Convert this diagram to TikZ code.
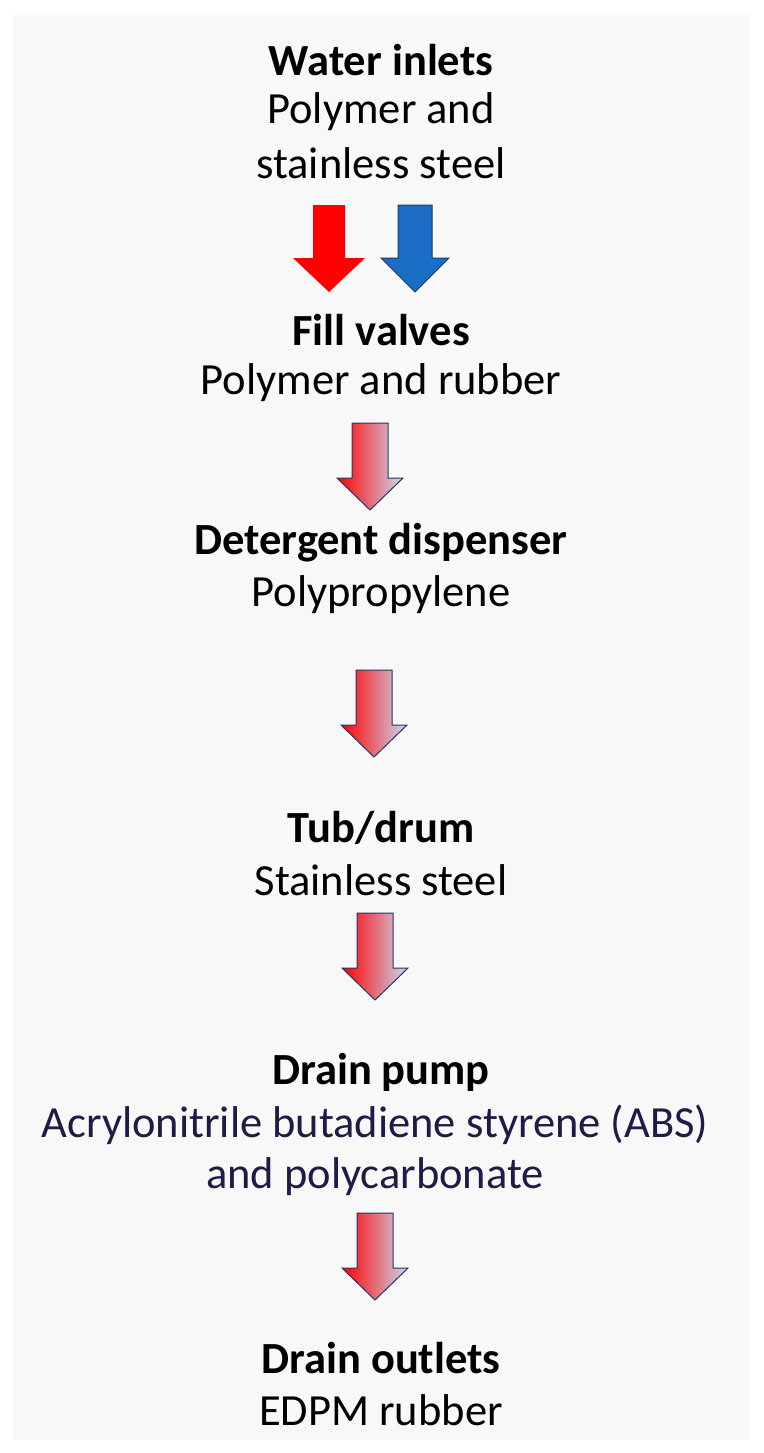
\documentclass[tikz,border=0pt]{standalone}
\usepackage{fontspec}
\setmainfont{Carlito}
\definecolor{panelgray}{HTML}{F8F8F8}
\definecolor{inletblue}{HTML}{1A6FC4}
\definecolor{edgenavy}{HTML}{1F3864}
\definecolor{paleblue}{HTML}{C9D9F2}
\definecolor{textnavy}{HTML}{1C1C44}
\tikzset{
	title/.style={font=\fontsize{44.5}{50}\selectfont\bfseries, inner sep=0pt},
	material/.style={font=\fontsize{44.5}{50}\selectfont, inner sep=0pt}
}
% down arrow, top centre at (#1,#2)
\newcommand{\downarrowpath}[5]{(#1-#3, #2) -- (#1+#3, #2) -- (#1+#3, #2+#5) -- (#1+#4, #2+#5) -- (#1, #2+87) -- (#1-#4, #2+#5) -- (#1-#3, #2+#5) -- cycle}
\begin{document}
\begin{tikzpicture}[x=1pt, y=-1pt]
	\useasboundingbox (0,0) rectangle (763,1453);
	\fill[panelgray] (13,15) rectangle (749,1440);
	
	\node[title] (inlet) at (381,60) {Water inlets};
	\node[material] (inletm1) at (381,112) {Polymer and};
	\node[material] (inletm2) at (381,163) {stainless steel};
	
	\fill[red] \downarrowpath{329}{205}{16}{36}{53};
	\draw[edgenavy, fill=inletblue, line width=1pt] \downarrowpath{415}{205}{17}{34}{53};
	
	\node[title] (fill) at (381,330) {Fill valves};
	\node[material] (fillm) at (381,383) {Polymer and rubber};
	\node[title] (disp) at (381,543) {Detergent dispenser};
	\node[material] (dispm) at (381,595) {Polypropylene};
	\node[title] (tub) at (381,828) {Tub/drum};
	\node[material] (tubm) at (381,880) {Stainless steel};
	\node[title] (pump) at (381,1072) {Drain pump};
	\node[material, text=textnavy] (pumpm1) at (375,1125) {Acrylonitrile butadiene styrene (ABS)};
	\node[material, text=textnavy] (pumpm2) at (375,1177) {and polycarbonate};
	\node[title] (outlet) at (381,1358) {Drain outlets};
	\node[material] (outletm) at (381,1410) {EDPM rubber};
	
	\foreach \x/\y in {370/423, 374/670, 375/913, 375/1213}
	{
		\shade[left color=red, right color=paleblue, draw=edgenavy, line width=1pt] \downarrowpath{\x}{\y}{18}{33}{55};
	}
\end{tikzpicture}
\end{document}
